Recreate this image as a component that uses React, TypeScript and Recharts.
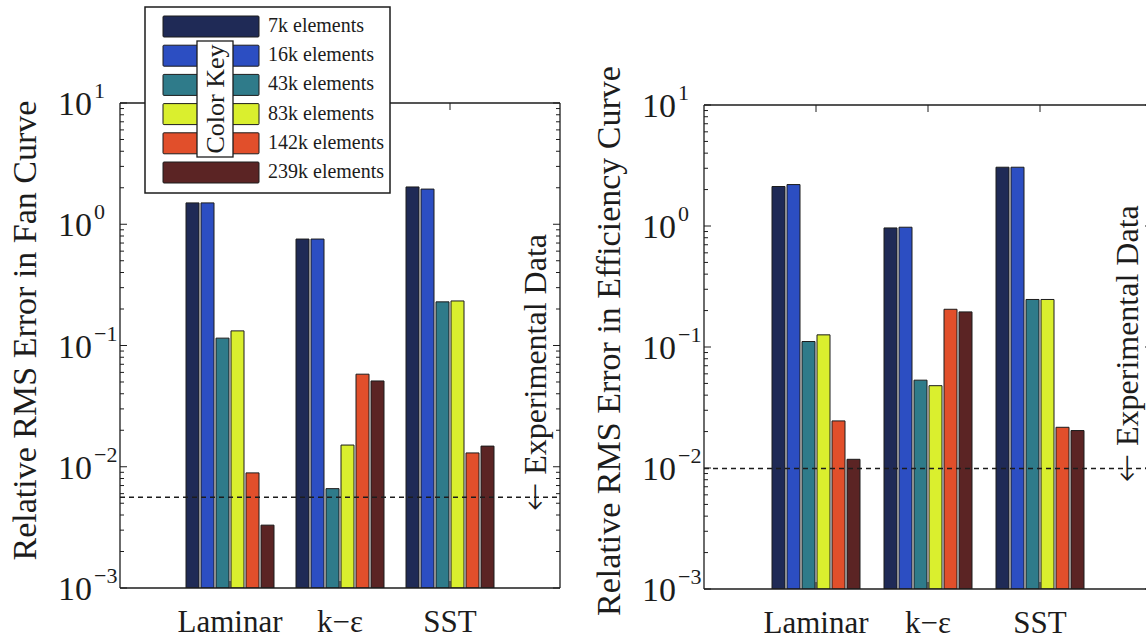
import React from 'react';
import { BarChart, Bar, XAxis, YAxis, ReferenceLine } from 'recharts';

const FONT = '"Liberation Serif", "Times New Roman", serif';
const INK = '#1c1c1c';

const categories = ['Laminar', 'k\u2212\u03b5', 'SST'];
const meshNames = ['7k elements', '16k elements', '43k elements', '83k elements', '142k elements', '239k elements'];
const meshColors = ['#1f2a56', '#2c4ec2', '#2f7b8a', '#daef2e', '#e14f2b', '#5b2424'];
const meshKeys = ['m7k', 'm16k', 'm43k', 'm83k', 'm142k', 'm239k'];

// Relative RMS error in fan curve, per mesh, over [Laminar, k-e, SST]
const fan7k = [1.5, 0.755, 2.03];
const fan16k = [1.5, 0.755, 1.95];
const fan43k = [0.115, 0.0066, 0.229];
const fan83k = [0.132, 0.0151, 0.233];
const fan142k = [0.0089, 0.058, 0.013];
const fan239k = [0.0033, 0.051, 0.0148];
const fanExperimental = 0.0056;

// Relative RMS error in efficiency curve
const eff7k = [2.12, 0.964, 3.06];
const eff16k = [2.2, 0.977, 3.06];
const eff43k = [0.111, 0.0532, 0.247];
const eff83k = [0.126, 0.0479, 0.247];
const eff142k = [0.0245, 0.205, 0.0217];
const eff239k = [0.0118, 0.195, 0.0204];
const effExperimental = 0.0099;

const majorTicks = [0.001, 0.01, 0.1, 1, 10];
const minorSteps = [2, 3, 4, 5, 6, 7, 8, 9];
const logTicks = [
  ...majorTicks,
  ...majorTicks.slice(0, -1).flatMap((d) => minorSteps.map((m) => m * d)),
].sort((a, b) => a - b);

const fanSeries = [fan7k, fan16k, fan43k, fan83k, fan142k, fan239k];
const effSeries = [eff7k, eff16k, eff43k, eff83k, eff142k, eff239k];

function buildRows(series: number[][]) {
  return categories.map((cat, i) => {
    const row: any = { cat };
    meshKeys.forEach((k, j) => {
      row[k] = series[j][i];
    });
    return row;
  });
}

function YTick(props: any) {
  const { x, y, payload, dir, showLabel } = props;
  const v = payload.value;
  const lg = Math.log10(v);
  const e = Math.round(lg);
  const major = Math.abs(lg - e) < 1e-6;
  const len = major ? 7 : 4;
  const expText = e < 0 ? '\u2212' + Math.abs(e) : String(e);
  return (
    <g>
      <line x1={x} x2={x + dir * len} y1={y} y2={y} stroke={INK} strokeWidth={1} />
      {major && showLabel && (
        <text x={x - 62} y={y + 12} fontFamily={FONT} fontSize={34} fill={INK}>
          10
          <tspan fontSize={22} dx={2} dy={-17}>
            {expText}
          </tspan>
        </text>
      )}
    </g>
  );
}

function XTick(props: any) {
  const { x, y, payload, dir, showLabel } = props;
  return (
    <g>
      <line x1={x} x2={x} y1={y} y2={y + dir * 7} stroke={INK} strokeWidth={1} />
      {showLabel && (
        <text x={x} y={y + 44} textAnchor="middle" fontFamily={FONT} fontSize={31} fill={INK}>
          {payload.value}
        </text>
      )}
    </g>
  );
}

function AxisTitle(props: any) {
  const vb = props.viewBox || { x: 0, y: 0, width: 0, height: 0 };
  const cx = vb.x + 16;
  const cy = vb.y + vb.height / 2 + (props.shift || 0);
  return (
    <text
      transform={`translate(${cx},${cy}) rotate(-90)`}
      textAnchor="middle"
      fontFamily={FONT}
      fontSize={34}
      fill={INK}
    >
      {props.text}
    </text>
  );
}

function ExpLabel(props: any) {
  const vb = props.viewBox || { x: 0, y: 0, width: 0, height: 0 };
  const x = vb.x + vb.width - 14;
  const y = vb.y + 14;
  return (
    <text transform={`translate(${x},${y}) rotate(-90)`} fontFamily={FONT} fontSize={32} fill={INK}>
      <tspan fontFamily='"DejaVu Sans", sans-serif' fontSize={34} fontWeight={300}>
        {'\u2190'}
      </tspan>
      {' Experimental Data'}
    </text>
  );
}

function Panel(props: any) {
  const { rows, experimental, title, titleShift, left, plotTop, plotBottom, plotWidth } = props;
  const H = 641;
  const xAxisH = 40;
  const marginLeft = 20;
  const yAxisW = 100;
  const marginRight = 19;
  const rightAxisW = 1;
  const topAxisH = 1;
  const width = marginLeft + yAxisW + plotWidth + rightAxisW + marginRight;
  const pad = plotWidth / 8;
  const band = plotWidth / 4;
  const barSize = 13;
  const gap = 2;
  const catGap = (band - (6 * barSize + 5 * gap)) / 2;
  const axisLine = { stroke: INK, strokeWidth: 1.3 };
  return (
    <div style={{ position: 'absolute', left, top: 0 }}>
      <BarChart
        width={width}
        height={H}
        data={rows}
        margin={{
          top: plotTop - topAxisH,
          right: marginRight,
          bottom: H - plotBottom - xAxisH,
          left: marginLeft,
        }}
        barCategoryGap={catGap}
        barGap={gap}
      >
        <XAxis
          dataKey="cat"
          xAxisId={0}
          height={xAxisH}
          padding={{ left: pad, right: pad }}
          tickSize={0}
          tickMargin={0}
          tickLine={false}
          interval={0}
          axisLine={axisLine}
          tick={(p: any) => <XTick {...p} dir={-1} showLabel />}
        />
        <XAxis
          dataKey="cat"
          xAxisId="top"
          orientation="top"
          height={topAxisH}
          padding={{ left: pad, right: pad }}
          tickSize={0}
          tickMargin={0}
          tickLine={false}
          interval={0}
          axisLine={axisLine}
          tick={(p: any) => <XTick {...p} dir={1} />}
        />
        <YAxis
          yAxisId={0}
          width={yAxisW}
          type="number"
          scale="log"
          domain={[0.001, 10]}
          allowDataOverflow
          ticks={logTicks}
          interval={0}
          tickSize={0}
          tickMargin={0}
          tickLine={false}
          axisLine={axisLine}
          tick={(p: any) => <YTick {...p} dir={1} showLabel />}
          label={<AxisTitle text={title} shift={titleShift} />}
        />
        <YAxis
          yAxisId="r"
          orientation="right"
          width={rightAxisW}
          type="number"
          scale="log"
          domain={[0.001, 10]}
          allowDataOverflow
          ticks={logTicks}
          interval={0}
          tickSize={0}
          tickMargin={0}
          tickLine={false}
          axisLine={axisLine}
          tick={(p: any) => <YTick {...p} dir={-1} />}
        />
        {meshKeys.map((k, j) => (
          <Bar
            key={k}
            dataKey={k}
            name={meshNames[j]}
            fill={meshColors[j]}
            stroke={INK}
            strokeWidth={1}
            isAnimationActive={false}
          />
        ))}
        <ReferenceLine
          y={experimental}
          stroke={INK}
          strokeWidth={1.5}
          strokeDasharray="5 4"
          label={<ExpLabel />}
        />
      </BarChart>
    </div>
  );
}

function ColorKey() {
  const bx = 145;
  const by = 7;
  const rowStep = 29.2;
  return (
    <svg
      width={1146}
      height={641}
      style={{ position: 'absolute', left: 0, top: 0, pointerEvents: 'none' }}
    >
      <rect x={bx} y={by} width={245} height={186} fill="#fff" stroke={INK} strokeWidth={1.5} />
      {meshNames.map((name, i) => {
        const sy = 16 + i * rowStep;
        return (
          <g key={name}>
            <rect x={163} y={sy} width={96} height={21} fill={meshColors[i]} stroke={INK} strokeWidth={1} rx={1} />
            <text x={268} y={sy + 16} fontFamily={FONT} fontSize={20} fill={INK}>
              {name}
            </text>
          </g>
        );
      })}
      <rect x={197} y={41} width={36} height={116} fill="#fff" stroke={INK} strokeWidth={1.3} />
      <text
        transform="translate(224,99) rotate(-90)"
        textAnchor="middle"
        fontFamily={FONT}
        fontSize={26}
        fill={INK}
      >
        Color Key
      </text>
    </svg>
  );
}

export default function App() {
  const fanRows = buildRows(fanSeries);
  const effRows = buildRows(effSeries);
  return (
    <div
      style={{
        position: 'absolute',
        left: 0,
        top: 0,
        width: 1146,
        height: 641,
        overflow: 'hidden',
        background: '#fff',
      }}
    >
      <Panel
        rows={fanRows}
        experimental={fanExperimental}
        title="Relative RMS Error in Fan Curve"
        titleShift={-15}
        left={0}
        plotTop={103}
        plotBottom={588}
        plotWidth={440}
      />
      <Panel
        rows={effRows}
        experimental={effExperimental}
        title="Relative RMS Error in Efficiency Curve"
        titleShift={-6}
        left={584}
        plotTop={105}
        plotBottom={589}
        plotWidth={448}
      />
      <ColorKey />
    </div>
  );
}
